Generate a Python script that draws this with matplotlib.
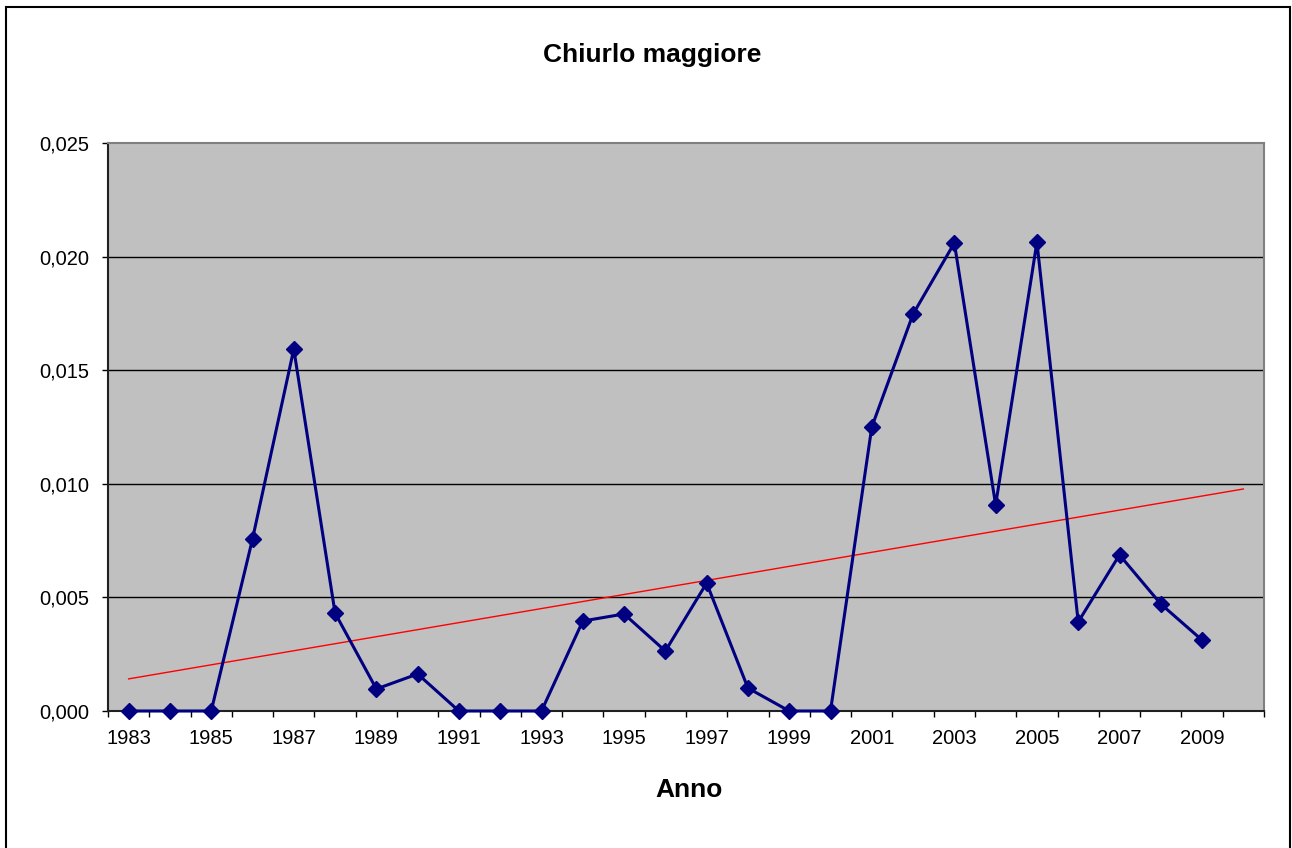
import matplotlib.pyplot as plt
import numpy as np
from matplotlib.patches import Rectangle

YEARS = list(range(1983, 2010))
VALUES = [
    0.0, 0.0, 0.0, 0.00757, 0.01593, 0.00431, 0.00097, 0.00163, 0.0, 0.0,
    0.0, 0.00396, 0.00427, 0.00264, 0.00563, 0.00101, 0.0, 0.0, 0.0125,
    0.01747, 0.0206, 0.00907, 0.02064, 0.00392, 0.00687, 0.00471, 0.00312,
]
Y_TICKS = [0.0, 0.005, 0.010, 0.015, 0.020, 0.025]

plt.rcParams["font.family"] = ["Liberation Sans", "DejaVu Sans"]

fig = plt.figure(figsize=(12.92, 8.48), dpi=100)
ax = fig.add_axes([108 / 1292, 137 / 848, 1156 / 1292, 568 / 848])

# outer chart frame
fig.patches.append(Rectangle((6 / 1292, -0.01), 1284 / 1292, 1 - 7 / 848 + 0.01,
                             transform=fig.transFigure, fill=False,
                             edgecolor="black", linewidth=1.5, zorder=0))

x = np.arange(len(YEARS))
ax.set_facecolor("#C0C0C0")

# horizontal gridlines
for yv in Y_TICKS[1:-1]:
    ax.axhline(yv, color="black", linewidth=1, zorder=1)

ax.plot(x, VALUES, color="#000080", linewidth=2.2, marker="D", markersize=8.5,
        zorder=3, clip_on=False)

# linear trend, extended one period forward
coef = np.polyfit(x, VALUES, 1)
xt = np.array([0, len(YEARS)])
ax.plot(xt, np.polyval(coef, xt), color="#FF0000", linewidth=1, zorder=2)

ax.set_xlim(-0.5, len(YEARS) + 0.5)
ax.set_ylim(0, 0.025)

ax.set_xticks(np.arange(-0.5, len(YEARS) + 1, 1.0))
ax.set_xticklabels([])
ax.tick_params(axis="x", which="major", length=4.5, direction="out", width=1)
ax.set_xticks(x[::2], minor=True)
ax.set_xticklabels([str(y) for y in YEARS[::2]], minor=True, fontsize=14.5)
ax.tick_params(axis="x", which="minor", length=0, pad=13)

ax.set_yticks(Y_TICKS)
ax.set_yticklabels([f"{v:.3f}".replace(".", ",") for v in Y_TICKS], fontsize=14.5)
ax.tick_params(axis="y", length=4.5, direction="out", width=1, pad=9)

ax.spines["left"].set_color("#202020")
ax.spines["bottom"].set_color("#202020")
ax.spines["top"].set_color("#808080")
ax.spines["right"].set_color("#808080")
for s in ax.spines.values():
    s.set_linewidth(1.5)

fig.text(652 / 1292, 1 - 55 / 848, "Chiurlo maggiore", ha="center", va="center",
         fontsize=19, fontweight="bold")
fig.text(689 / 1292, 1 - 790 / 848, "Anno", ha="center", va="center",
         fontsize=19, fontweight="bold")

fig.savefig("out.png", dpi=100)
